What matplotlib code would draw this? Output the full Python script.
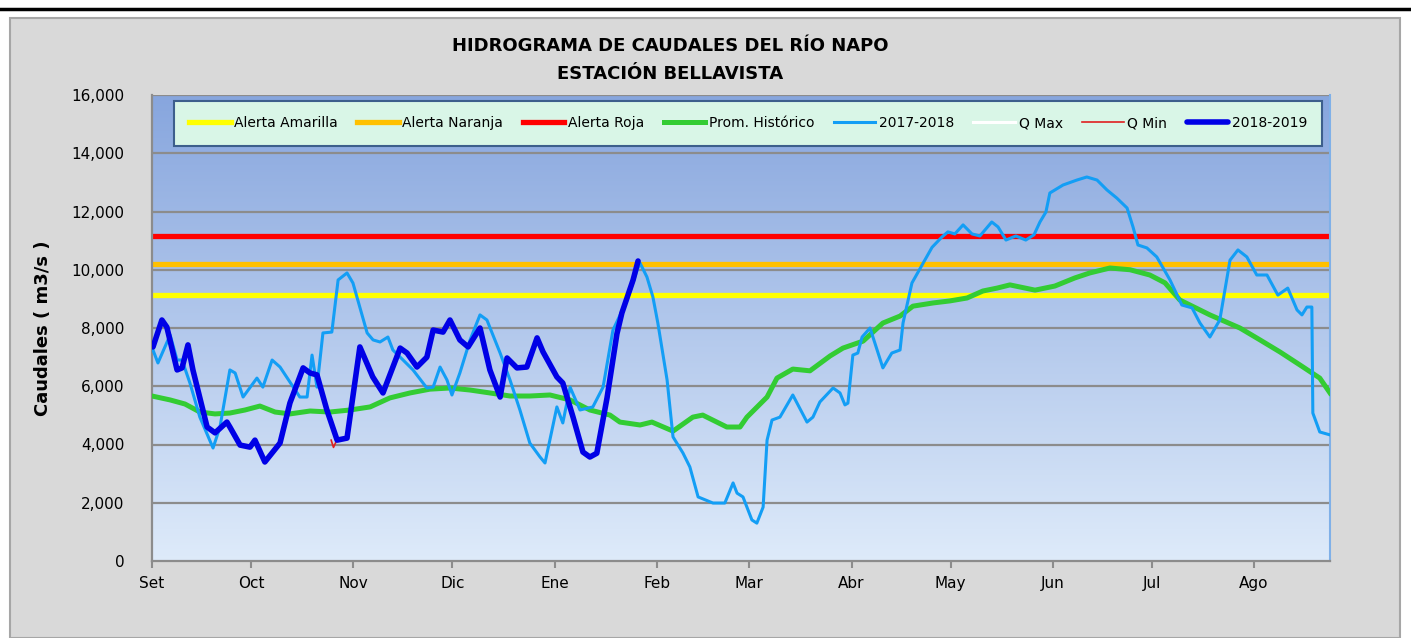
import matplotlib
matplotlib.use("Agg")
import matplotlib.pyplot as plt
import numpy as np
from matplotlib.patches import Rectangle
from matplotlib.ticker import FuncFormatter

# days counted from 1 September
month_days = [0, 30, 61, 91, 122, 153, 181, 212, 242, 273, 303, 334]
month_labels = ["Set", "Oct", "Nov", "Dic", "Ene", "Feb", "Mar", "Abr", "May", "Jun", "Jul", "Ago"]

alerta_amarilla = 9150
alerta_naranja = 10200
alerta_roja = 11150

prom_days = [0, 5.5, 10.0, 14.5, 19.1, 23.6, 28.2, 32.7, 37.3, 41.8, 47.9, 53.9, 60.0, 66.1,
             72.1, 78.2, 84.2, 90.3, 96.4, 102.4, 108.5, 114.5, 120.6, 126.7, 132.7, 138.8,
             141.8, 147.9, 151.5, 157.9, 163.9, 166.9, 174.2, 178.2, 180.3, 186.4, 189.4,
             194.2, 199.4, 205.5, 209.4, 215.5, 221.5, 226.7, 230.6, 236.7, 241.8, 247.0,
             251.8, 256.1, 260.0, 267.6, 273.6, 279.7, 284.2, 290.3, 296.4, 302.4, 307.0,
             311.5, 320.6, 329.7, 335.8, 341.8, 347.9, 353.9, 357.0]
prom_vals = [5665, 5530, 5390, 5115, 5050, 5080, 5185, 5320, 5115, 5050, 5150, 5115, 5185, 5290,
             5600, 5770, 5900, 5940, 5870, 5770, 5665, 5665, 5700, 5530, 5185, 5010,
             4770, 4670, 4770, 4460, 4940, 5010, 4600, 4600, 4940, 5630, 6280,
             6590, 6530, 7040, 7310, 7550, 8170, 8410, 8750, 8860, 8930, 9030,
             9270, 9370, 9480, 9300, 9440, 9720, 9890, 10060, 10000, 9820, 9550,
             8960, 8450, 8000, 7590, 7180, 6730, 6280, 5770]

q1718_days = [0.3, 1.8, 5.5, 7.6, 9.1, 11.5, 14.5, 18.5, 20.6, 23.6, 25.2, 27.6, 31.8, 33.6,
              36.4, 38.8, 44.8, 47.0, 48.5, 50.0, 51.8, 54.5, 56.4, 59.1, 60.9, 65.2, 67.0,
              69.1, 71.5, 73.0, 76.1, 79.1, 83.3, 85.2, 87.3, 89.4, 90.9, 93.3, 96.4, 99.4,
              101.5, 105.5, 108.5, 111.5, 114.5, 117.6, 119.1, 122.7, 124.5, 126.7, 129.7,
              133.6, 136.7, 139.7, 144.0, 147.0, 147.9, 150.0, 151.8, 153.3, 156.1, 157.9,
              160.9, 163.0, 165.5, 170.0, 173.6, 176.1, 177.3, 179.1, 181.8, 183.3, 185.2,
              186.4, 187.9, 190.3, 194.2, 198.5, 200.3, 202.4, 206.4, 208.5, 210.0, 210.9,
              212.4, 213.9, 215.2, 217.6, 221.5, 224.2, 226.7, 227.6, 230.3, 233.3, 236.4,
              239.4, 241.2, 243.3, 245.8, 248.5, 250.9, 254.5, 256.4, 258.8, 261.8, 264.8,
              267.3, 269.1, 270.9, 272.1, 276.1, 280.3, 283.3, 286.4, 289.4, 292.4, 295.5,
              297.3, 298.8, 301.5, 304.5, 308.5, 312.1, 315.2, 317.6, 320.6, 323.6, 326.7,
              329.1, 331.8, 334.8, 337.9, 341.2, 344.2, 347.0, 348.5, 350.0, 351.5, 351.8,
              353.9, 357.0]
q1718_vals = [7245, 6800, 7760, 6900, 6900, 6110, 4940, 3880, 4600, 6560, 6455, 5630, 6280, 5970,
              6900, 6660, 5630, 5630, 7070, 5970, 7830, 7860, 9650, 9890, 9545, 7830, 7590,
              7520, 7690, 7245, 6900, 6560, 5940, 5970, 6660, 6215, 5700, 6455, 7590, 8450,
              8275, 7140, 6215, 5185, 4050, 3570, 3365, 5290, 4740, 5970, 5185,
              5290, 5970, 7930, 8960, 9990, 10230, 9750, 9065, 8170, 6215, 4260,
              3710, 3230, 2200, 1990, 1990, 2680, 2330, 2200, 1410, 1300, 1850,
              4150, 4840, 4940, 5700, 4770, 4940, 5460, 5940, 5770, 5360, 5420,
              7070, 7140, 7690, 8000, 6630, 7140, 7245, 8170, 9545, 10150, 10770,
              11125, 11300, 11230, 11540, 11230, 11160, 11640, 11470, 11020, 11160, 11020,
              11200, 11640, 11980, 12635, 12910, 13080, 13185, 13080, 12740, 12460, 12120,
              11470, 10850, 10750, 10440, 9650, 8790, 8690, 8170, 7690, 8275, 10330,
              10680, 10440, 9820, 9820, 9130, 9370, 8620, 8450, 8720, 8720, 5080,
              4430, 4330]

q1819_days = [0.3, 3.0, 4.5, 7.6, 9.1, 10.9, 12.4, 16.7, 19.1, 22.7, 23.6, 26.7, 29.7, 31.2,
              34.2, 38.8, 41.8, 45.8, 47.9, 50.0, 53.0, 56.1, 59.1, 63.0, 66.9, 70.0, 75.2,
              77.3, 80.3, 83.3, 85.2, 88.2, 90.3, 93.3, 95.8, 99.4, 102.4, 105.5, 107.6,
              110.6, 113.6, 116.7, 118.5, 122.7, 124.5, 127.6, 130.6, 132.7, 134.8, 137.9,
              140.9, 142.4, 145.8, 147.3]
q1819_vals = [7350, 8275, 8030, 6560, 6630, 7420, 6560, 4600, 4400, 4770, 4600, 3980, 3910, 4150,
              3400, 4050, 5425, 6630, 6455, 6390, 5185, 4150, 4220, 7350, 6320, 5770, 7310,
              7140, 6660, 7000, 7930, 7860, 8275, 7590, 7350, 8000, 6560, 5630, 6970,
              6630, 6660, 7660, 7180, 6320, 6110, 4940, 3740, 3570, 3700, 5600,
              7800, 8515, 9650, 10300]

qmin_days = [54.3, 55.0, 55.8]
qmin_vals = [4150, 3900, 4100]

fig = plt.figure(figsize=(14.11, 6.38), dpi=100)
fig.patch.set_facecolor("white")

# gray chart area and the cut top border
fig.patches.append(Rectangle((10 / 1411, 0), 1390 / 1411, 620 / 638, transform=fig.transFigure,
                             facecolor="#d9d9d9", edgecolor="#a6a6a6", linewidth=1.5, zorder=-5))
fig.add_artist(plt.Line2D([0, 1], [1 - 9 / 638, 1 - 9 / 638], transform=fig.transFigure,
                          color="black", linewidth=2.5))

ax = fig.add_axes([152 / 1411, 77 / 638, 1178 / 1411, 466 / 638])
ax.set_xlim(0, 357)
ax.set_ylim(0, 16000)

grad = np.linspace(0, 1, 256).reshape(-1, 1, 1)
top = np.array([0.53, 0.65, 0.87])
bot = np.array([0.87, 0.92, 0.98])
img = bot + (top - bot) * grad
ax.imshow(img, extent=[0, 357, 0, 16000], origin="lower", aspect="auto", zorder=0)

for v in range(2000, 16001, 2000):
    ax.axhline(v, color="#8c8c8c", linewidth=1.6, zorder=1)

ax.axhline(alerta_amarilla, color="#ffff00", linewidth=3.8, zorder=2, label="Alerta Amarilla")
ax.axhline(alerta_naranja, color="#ffc000", linewidth=3.8, zorder=2, label="Alerta Naranja")
ax.axhline(alerta_roja, color="#ff0000", linewidth=3.8, zorder=2, label="Alerta Roja")
ax.plot(prom_days, prom_vals, color="#33cc33", linewidth=3.6, zorder=3, label="Prom. Histórico")
ax.plot(q1718_days, q1718_vals, color="#139ef5", linewidth=2.2, zorder=4, label="2017-2018")
ax.plot([], [], color="white", linewidth=2.2, label="Q Max")
ax.plot(qmin_days, qmin_vals, color="#e02020", linewidth=1.2, zorder=5, label="Q Min")
ax.plot(q1819_days, q1819_vals, color="#0000e6", linewidth=4.0, zorder=6, label="2018-2019",
        solid_joinstyle="round", solid_capstyle="round")

ax.set_xticks(month_days)
ax.set_xticklabels(month_labels, fontsize=11)
ax.set_yticks(range(0, 16001, 2000))
ax.yaxis.set_major_formatter(FuncFormatter(lambda v, p: f"{int(v):,}"))
ax.tick_params(axis="y", length=0, pad=20, labelsize=11)
ax.tick_params(axis="x", length=5, color="#8c8c8c", width=1.5, pad=6)

ax.spines["top"].set_visible(False)
ax.spines["left"].set_color("#8c8c8c")
ax.spines["left"].set_linewidth(1.6)
ax.spines["bottom"].set_color("#8c8c8c")
ax.spines["bottom"].set_linewidth(1.6)
ax.spines["right"].set_color("#7fb0e8")
ax.spines["right"].set_linewidth(1.5)

ax.set_ylabel("Caudales ( m3/s )", fontsize=13, fontweight="bold", labelpad=14)

leg = ax.legend(loc="upper center", bbox_to_anchor=(0.506, 0.987), ncol=8, fontsize=10,
                frameon=True, fancybox=False, framealpha=1, handlelength=3.0,
                handletextpad=0.25, columnspacing=1.4, borderpad=1.1, borderaxespad=0)
leg.get_frame().set_facecolor("#d9f6e7")
leg.get_frame().set_edgecolor("#3d5f8c")
leg.get_frame().set_linewidth(1.5)
leg.set_zorder(10)

fig.text(0.475, 1 - 46 / 638, "HIDROGRAMA DE CAUDALES DEL RÍO NAPO", ha="center", va="center",
         fontsize=13, fontweight="bold")
fig.text(0.475, 1 - 74 / 638, "ESTACIÓN BELLAVISTA", ha="center", va="center",
         fontsize=13, fontweight="bold")

fig.savefig("out.png", dpi=100)
